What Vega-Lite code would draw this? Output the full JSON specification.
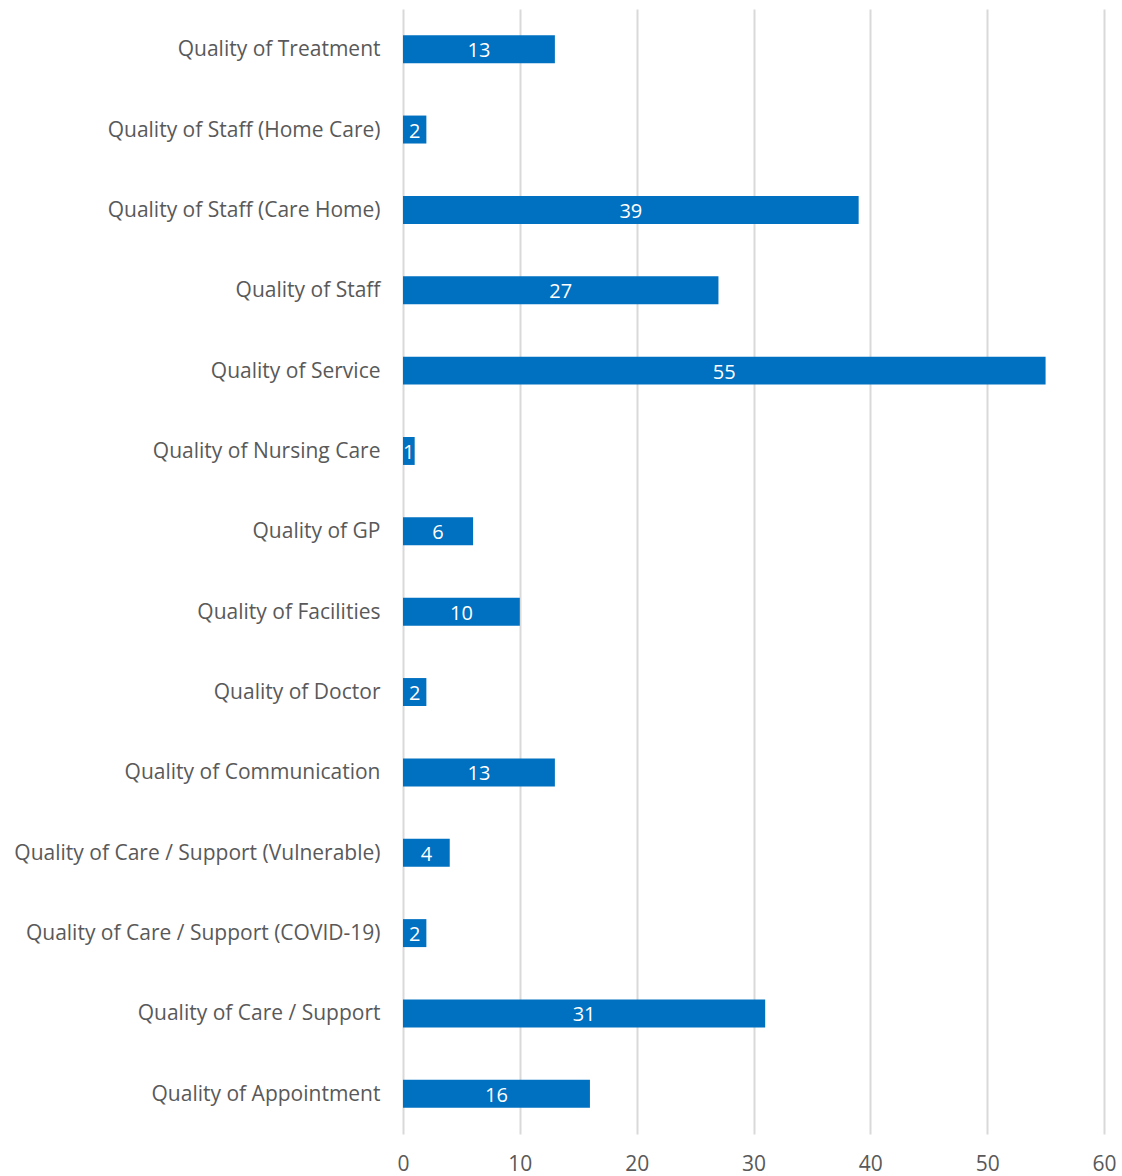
{
  "$schema": "https://vega.github.io/schema/vega-lite/v6.json",
  "autosize": {"type": "none"},
  "padding": {"left": 403, "top": 9, "right": 18, "bottom": 42},
  "width": 701,
  "height": 1125,
  "background": "white",
  "config": {"view": {"stroke": null}, "font": "Open Sans"},
  "data": {"values": [
    {"category": "Quality of Treatment", "value": 13},
    {"category": "Quality of Staff (Home Care)", "value": 2},
    {"category": "Quality of Staff (Care Home)", "value": 39},
    {"category": "Quality of Staff", "value": 27},
    {"category": "Quality of Service", "value": 55},
    {"category": "Quality of Nursing Care", "value": 1},
    {"category": "Quality of GP", "value": 6},
    {"category": "Quality of Facilities", "value": 10},
    {"category": "Quality of Doctor", "value": 2},
    {"category": "Quality of Communication", "value": 13},
    {"category": "Quality of Care / Support (Vulnerable)", "value": 4},
    {"category": "Quality of Care / Support (COVID-19)", "value": 2},
    {"category": "Quality of Care / Support", "value": 31},
    {"category": "Quality of Appointment", "value": 16}
  ]},
  "encoding": {
    "y": {"field": "category", "type": "nominal", "sort": null,
      "scale": {"paddingInner": 0.652},
      "axis": {"title": null, "domain": false, "ticks": false, "labelPadding": 23, "labelOffset": 1,
        "labelFontSize": 21, "labelColor": "#595959", "labelFont": "Open Sans", "labelLimit": 500}}
  },
  "layer": [
    {"mark": {"type": "bar", "color": "#0070C0"},
      "encoding": {
        "x": {"field": "value", "type": "quantitative",
          "scale": {"domain": [0, 60], "nice": false},
          "axis": {"title": null, "domain": false, "ticks": false, "values": [0, 10, 20, 30, 40, 50, 60],
            "grid": true, "gridColor": "#d9d9d9", "gridWidth": 2, "labelPadding": 19, "labelFlush": false,
            "labelFontSize": 21, "labelColor": "#595959", "labelFont": "Open Sans"}}
      }},
    {"mark": {"type": "text", "color": "white", "fontSize": 20, "font": "Open Sans", "align": "center", "baseline": "middle", "dy": 2},
      "encoding": {
        "x": {"field": "value", "type": "quantitative", "scale": {"domain": [0, 120], "nice": false}, "axis": null},
        "text": {"field": "value", "type": "quantitative"}}}
  ],
  "resolve": {"scale": {"x": "independent"}}
}
